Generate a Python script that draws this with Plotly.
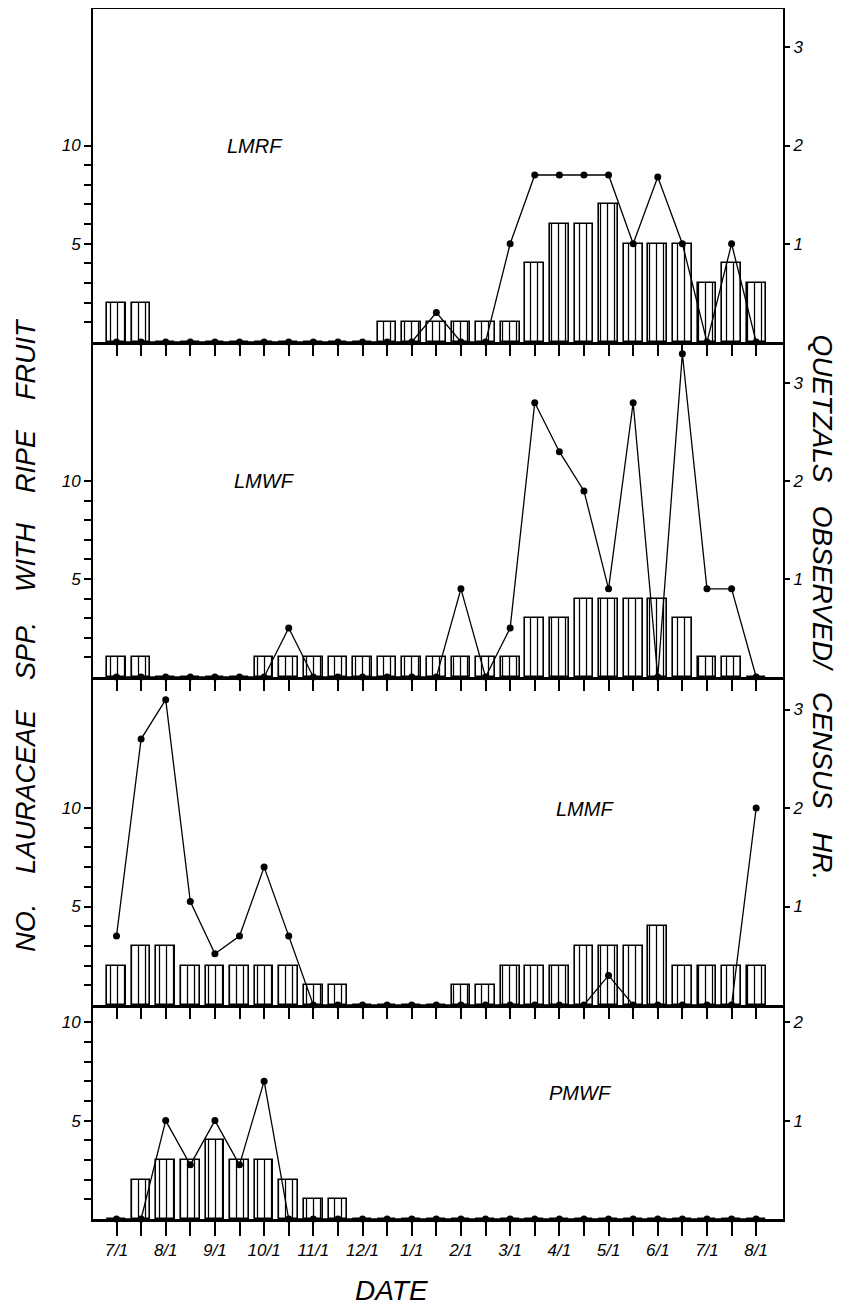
import plotly.graph_objects as go
from plotly.subplots import make_subplots

# Half-month census points: 7/1 (index 0) through 8/1 of the following year (index 26)
half_month = list(range(27))
date_labels = ["7/1", "8/1", "9/1", "10/1", "11/1", "12/1", "1/1",
               "2/1", "3/1", "4/1", "5/1", "6/1", "7/1", "8/1"]

sites = ["LMRF", "LMWF", "LMMF", "PMWF"]

# Number of Lauraceae species with ripe fruit (bars, left axis)
lmrf_spp = [2, 2, 0, 0, 0, 0, 0, 0, 0, 0, 0, 1, 1, 1, 1, 1, 1, 4, 6, 6, 7, 5, 5, 5, 3, 4, 3]
lmwf_spp = [1, 1, 0, 0, 0, 0, 1, 1, 1, 1, 1, 1, 1, 1, 1, 1, 1, 3, 3, 4, 4, 4, 4, 3, 1, 1, 0]
lmmf_spp = [2, 3, 3, 2, 2, 2, 2, 2, 1, 1, 0, 0, 0, 0, 1, 1, 2, 2, 2, 3, 3, 3, 4, 2, 2, 2, 2]
pmwf_spp = [0, 2, 3, 3, 4, 3, 3, 2, 1, 1, 0, 0, 0, 0, 0, 0, 0, 0, 0, 0, 0, 0, 0, 0, 0, 0, 0]

# Quetzals observed per census hour (line, right axis)
lmrf_q = [0, 0, 0, 0, 0, 0, 0, 0, 0, 0, 0, 0, 0, 0.3, 0, 0, 1.0, 1.7, 1.7, 1.7, 1.7, 1.0, 1.68, 1.0, 0, 1.0, 0]
lmwf_q = [0, 0, 0, 0, 0, 0, 0, 0.5, 0, 0, 0, 0, 0, 0, 0.9, 0, 0.5, 2.8, 2.3, 1.9, 0.9, 2.8, 0, 3.3, 0.9, 0.9, 0]
lmmf_q = [0.7, 2.7, 3.1, 1.05, 0.52, 0.7, 1.4, 0.7, 0, 0, 0, 0, 0, 0, 0, 0, 0, 0, 0, 0, 0.3, 0, 0, 0, 0, 0, 2.0]
pmwf_q = [0, 0, 1.0, 0.55, 1.0, 0.55, 1.4, 0, 0, 0, 0, 0, 0, 0, 0, 0, 0, 0, 0, 0, 0, 0, 0, 0, 0, 0, 0]

species = [lmrf_spp, lmwf_spp, lmmf_spp, pmwf_spp]
quetzals = [lmrf_q, lmwf_q, lmmf_q, pmwf_q]

left_tops = [16.95, 17.1, 16.65, 10.87]
row_px = [333, 335, 328, 214]

FONT = "Liberation Sans"
tickfont = dict(family=FONT, size=17, color="black", style="italic")

fig = make_subplots(rows=4, cols=1, shared_xaxes=True, vertical_spacing=0,
                    row_heights=row_px,
                    specs=[[{"secondary_y": True}] for _ in range(4)])

for r in range(4):
    fig.add_trace(go.Bar(
        x=half_month, y=species[r], width=0.76,
        marker=dict(color="white",
                    line=dict(color="black", width=1.6),
                    pattern=dict(shape="|", fgcolor="black", bgcolor="white",
                                 size=7, solidity=0.18, fillmode="replace")),
        showlegend=False), row=r + 1, col=1, secondary_y=False)
    fig.add_trace(go.Scatter(
        x=half_month, y=quetzals[r], mode="lines+markers",
        line=dict(color="black", width=1.3),
        marker=dict(color="black", size=7),
        cliponaxis=False, showlegend=False), row=r + 1, col=1, secondary_y=True)

    top = left_tops[r]
    fig.update_yaxes(row=r + 1, col=1, secondary_y=False,
                     range=[0, top], tickvals=[5, 10], ticktext=["5", "10"],
                     ticks="outside", ticklen=7, tickwidth=1.5, tickcolor="black",
                     minor=dict(tickvals=list(range(1, 11)), ticks="outside",
                                ticklen=7, tickwidth=1.5, tickcolor="black"),
                     showline=True, linecolor="black", linewidth=2,
                     showgrid=False, zeroline=False, tickfont=tickfont,
                     automargin=False)
    rtop = top / 5.0
    fig.update_yaxes(row=r + 1, col=1, secondary_y=True,
                     range=[0, rtop], tickvals=[v for v in [1, 2, 3] if v < rtop],
                     ticks="outside", ticklen=5, tickwidth=1.5, tickcolor="black",
                     showline=True, linecolor="black", linewidth=2,
                     showgrid=False, zeroline=False, tickfont=tickfont,
                     automargin=False)
    fig.update_xaxes(row=r + 1, col=1, domain=[0, 1],
                     range=[-0.955, 27.09], tickvals=half_month,
                     ticktext=[date_labels[i // 2] if i % 2 == 0 else "" for i in half_month],
                     ticks="outside", ticklen=11 if r < 3 else 14, tickwidth=1.5,
                     tickcolor="black", showline=True, linecolor="black", linewidth=2.5,
                     showgrid=False, zeroline=False, tickfont=tickfont,
                     mirror=(r == 0), automargin=False)

fig.update_xaxes(row=4, col=1, showticklabels=True)

# panel labels
label_pos = [(0.235, 0.887), (0.249, 0.610), (0.713, 0.339), (0.706, 0.104)]
annotations = []
for name, (ax, ay) in zip(sites, label_pos):
    annotations.append(dict(text=name, x=ax, y=ay, xref="paper", yref="paper",
                            xanchor="center", yanchor="middle", showarrow=False,
                            font=dict(family=FONT, size=20, color="black", style="italic")))

big = dict(family=FONT, size=28, color="black", style="italic")
sp_left = "\u00a0\u00a0\u00a0 "
sp_right = "\u00a0\u00a0 "
annotations.append(dict(text="DATE", x=0.432, y=-0.0595, xref="paper", yref="paper",
                        xanchor="center", yanchor="middle", showarrow=False, font=big))
annotations.append(dict(text=sp_left.join(["NO.", "LAURACEAE", "SPP.", "WITH", "RIPE", "FRUIT"]),
                        x=-0.097, y=0.483, xref="paper", yref="paper", textangle=-90,
                        xanchor="center", yanchor="middle", showarrow=False,
                        font=dict(family=FONT, size=27, color="black", style="italic")))
annotations.append(dict(text=sp_right.join(["QUETZALS", "OBSERVED/", "CENSUS", "HR."]),
                        x=1.057, y=0.505, xref="paper", yref="paper", textangle=90,
                        xanchor="center", yanchor="middle", showarrow=False, font=big))

# page body has an 8px default margin, so the figure is 8px smaller than the window
fig.update_layout(width=840, height=1297,
                  margin=dict(l=85, r=65, t=1, b=86, autoexpand=False),
                  plot_bgcolor="white", paper_bgcolor="white",
                  bargap=0, showlegend=False,
                  annotations=annotations)

fig.write_html("out.html")
